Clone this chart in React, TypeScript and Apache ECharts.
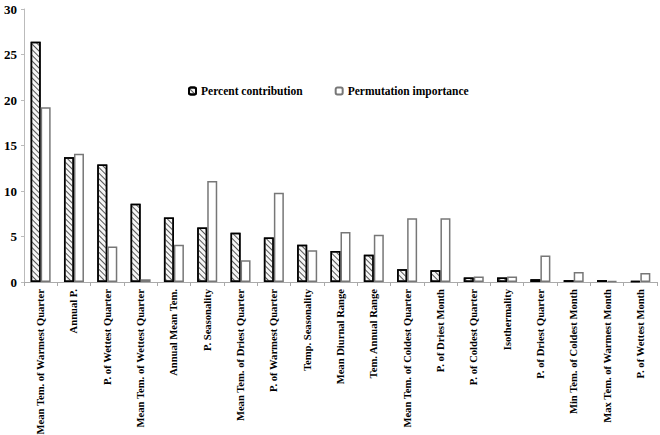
import React, { useEffect, useRef } from "react";
import * as echarts from "echarts";

const categories = [
  "Mean Tem. of Warmest Quarter",
  "Annual P.",
  "P. of Wettest Quarter",
  "Mean Tem. of Wettest Quarter",
  "Annual Mean Tem.",
  "P. Seasonality",
  "Mean Tem. of Driest Quarter",
  "P. of Warmest Quarter",
  "Temp. Seasonality",
  "Mean Diurnal Range",
  "Tem. Annual Range",
  "Mean Tem. of Coldest Quarter",
  "P. of Driest Month",
  "P. of Coldest Quarter",
  "Isothermality",
  "P. of Driest Quarter",
  "Min Tem. of Coldest Month",
  "Max Tem. of Warmest Month",
  "P. of Wettest Month",
];

const percentContribution = [26.4, 13.7, 12.9, 8.6, 7.1, 6.0, 5.4, 4.9, 4.1, 3.4, 3.0, 1.4, 1.3, 0.5, 0.5, 0.3, 0.2, 0.2, 0.1];
const permutationImportance = [19.2, 14.1, 3.9, 0.3, 4.1, 11.1, 2.4, 9.8, 3.5, 5.5, 5.2, 7.0, 7.0, 0.6, 0.6, 2.9, 1.1, 0.1, 1.0];

const FONT = "Liberation Serif";

export default function App() {
  const ref = useRef<HTMLDivElement>(null);
  useEffect(() => {
    if (!ref.current) return;
    const chart = echarts.init(ref.current, null, { renderer: "svg" });
    chart.setOption({
      animation: false,
      backgroundColor: "#fff",
      textStyle: { fontFamily: FONT },
      legend: {
        top: 80,
        left: 183,
        itemGap: 32,
        itemWidth: 7,
        itemHeight: 7,
        textStyle: { fontFamily: FONT, fontWeight: "bold", fontSize: 11.5, color: "#000" },
        data: ["Percent contribution", "Permutation importance"],
      },
      grid: { left: 24, right: 3, top: 9, bottom: 153, containLabel: false, outerBoundsMode: "none" },
      xAxis: {
        type: "category",
        data: categories,
        axisLine: { lineStyle: { color: "#aaa" } },
        axisTick: { show: true, length: 4, lineStyle: { color: "#aaa" } },
        axisLabel: {
          interval: 0,
          rotate: 90,
          fontFamily: FONT,
          fontWeight: "bold",
          fontSize: 10.6,
          color: "#000",
          margin: 7,
        },
      },
      yAxis: {
        type: "value",
        min: 0,
        max: 30,
        interval: 5,
        splitLine: { show: false },
        axisLine: { show: true, lineStyle: { color: "#bbb" } },
        axisTick: { show: true, length: 3, lineStyle: { color: "#bbb" } },
        axisLabel: { fontFamily: FONT, fontWeight: "bold", fontSize: 13, color: "#000", margin: 7 },
      },
      series: [
        {
          name: "Percent contribution",
          type: "bar",
          data: percentContribution,
          barGap: "0%",
          barCategoryGap: "40%",
          itemStyle: {
            color: "#f6f6f6",
            borderColor: "#000",
            borderWidth: 1.5,
            decal: {
              symbol: "rect",
              symbolSize: 1,
              color: "#555",
              dashArrayX: [1, 0],
              dashArrayY: [1, 2.5],
              rotation: Math.PI / 4,
            },
          },
        },
        {
          name: "Permutation importance",
          type: "bar",
          data: permutationImportance,
          itemStyle: {
            color: "#fff",
            borderColor: "#777",
            borderWidth: 1.5,
          },
        },
      ],
    });
    return () => chart.dispose();
  }, []);
  return <div ref={ref} style={{ width: 660, height: 435, position: "absolute", left: 0, top: 0 }} />;
}
